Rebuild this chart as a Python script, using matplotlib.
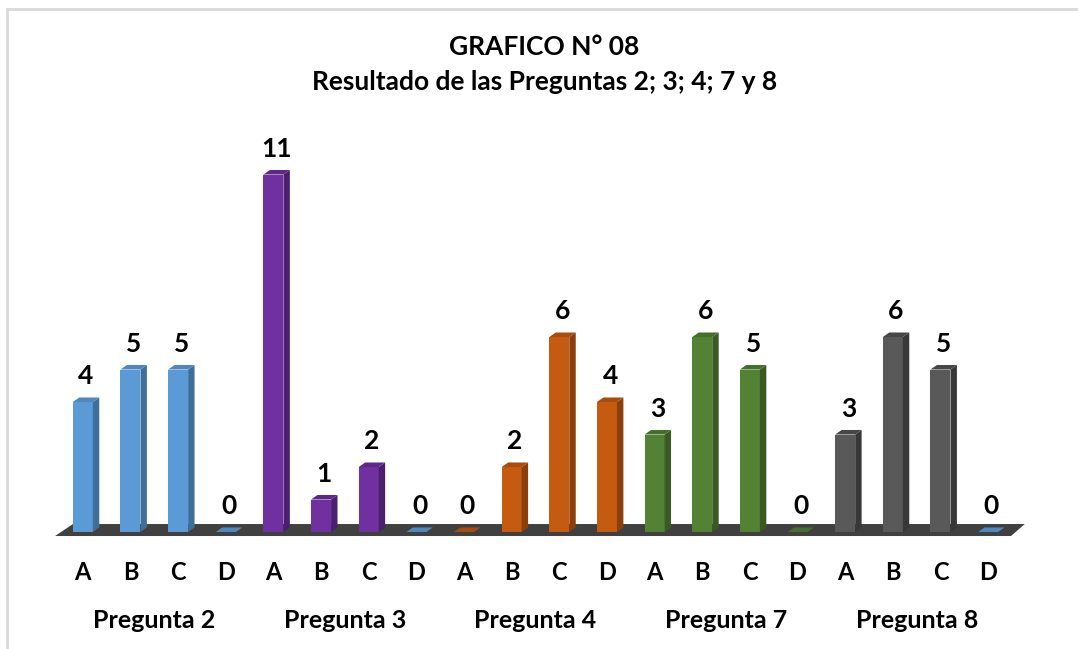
import matplotlib
matplotlib.use("Agg")
import matplotlib.pyplot as plt
import matplotlib.transforms as mtransforms
from matplotlib.patches import Polygon
from matplotlib.lines import Line2D
import numpy as np

plt.rcParams['font.family'] = ['Lato', 'DejaVu Sans']

# data
groups = ['Pregunta 2', 'Pregunta 3', 'Pregunta 4', 'Pregunta 7', 'Pregunta 8']
options = ['A', 'B', 'C', 'D']
values = [
    [4, 5, 5, 0],
    [11, 1, 2, 0],
    [0, 2, 6, 4],
    [3, 6, 5, 0],
    [3, 6, 5, 0],
]

# colors per group: front, side, top
group_colors = [
    ('#5B9BD5', '#3E6E9A', '#4F88BD'),
    ('#7030A0', '#4B1F6E', '#5E2888'),
    ('#C55A11', '#8A3F0C', '#A84D0E'),
    ('#548235', '#3A5A25', '#466E2C'),
    ('#595959', '#383838', '#474747'),
]
# colour of the flat zero marks
zero_colors = {(0, 3): '#4F88BD', (1, 3): '#4F88BD', (2, 0): '#A84D0E',
               (3, 3): '#466E2C', (4, 3): '#4F88BD'}

fig = plt.figure(figsize=(10.78, 6.49), dpi=100)
ax = fig.add_axes([0.0503, 0.1552, 0.9039, 0.676])
ax.set_xlim(-0.6, 19.85)
ax.set_ylim(-0.5, 13)

w = 0.42       # front width
dx = 0.135     # depth offset x
dy = 0.14      # depth offset y

# floor
floor = Polygon([(-0.583, -0.123), (19.48, -0.123), (19.77, 0.246), (-0.208, 0.246)],
                closed=True, facecolor='#404040', edgecolor='none', zorder=1)
ax.add_patch(floor)

xpos = np.arange(len(groups) * len(options))

for gi, row in enumerate(values):
    front, side, top = group_colors[gi]
    for oi, v in enumerate(row):
        x = gi * len(options) + oi
        x0, x1 = x - w / 2, x + w / 2
        if v == 0:
            c = zero_colors.get((gi, oi), top)
            ax.add_patch(Polygon([(x0, 0.0), (x1, 0.0), (x1 + dx, dy), (x0 + dx, dy)],
                                 closed=True, facecolor=c, edgecolor='none', zorder=3))
        else:
            ax.bar(x, v, width=w, color=front, zorder=3)
            ax.add_patch(Polygon([(x1, 0), (x1 + dx, dy), (x1 + dx, v + dy), (x1, v)],
                                 closed=True, facecolor=side, edgecolor='none', zorder=3))
            ax.add_patch(Polygon([(x0, v), (x1, v), (x1 + dx, v + dy), (x0 + dx, v + dy)],
                                 closed=True, facecolor=top, edgecolor='none', zorder=3))
        ax.text(x + dx / 2, v + 0.8, str(v), ha='center', va='center',
                fontsize=19, fontweight='bold', color='black')

ax.set_xticks([])
ax.set_yticks([])
for s in ax.spines.values():
    s.set_visible(False)

trans = mtransforms.blended_transform_factory(ax.transData, fig.transFigure)
for i, x in enumerate(xpos):
    ax.text(x, 1 - 572 / 649, options[i % len(options)], transform=trans,
            ha='center', va='center', fontsize=17, fontweight='bold')
for gi, g in enumerate(groups):
    ax.text(gi * len(options) + 1.5, 1 - 621 / 649, g, transform=trans,
            ha='center', va='center', fontsize=18, fontweight='bold')

fig.text(0.505, 1 - 47 / 649, 'GRAFICO N° 08', ha='center', va='center',
         fontsize=19, fontweight='bold')
fig.text(0.505, 1 - 82 / 649, 'Resultado de las Preguntas 2; 3; 4; 7 y 8',
         ha='center', va='center', fontsize=19, fontweight='bold')

# frame: only top and left edges are visible
fig.add_artist(Line2D([7 / 1078, 1], [1 - 9 / 649, 1 - 9 / 649],
                      transform=fig.transFigure, color='#D9D9D9', linewidth=2))
fig.add_artist(Line2D([7 / 1078, 7 / 1078], [0, 1 - 9 / 649],
                      transform=fig.transFigure, color='#D9D9D9', linewidth=2))

fig.savefig('out.png', dpi=100)
